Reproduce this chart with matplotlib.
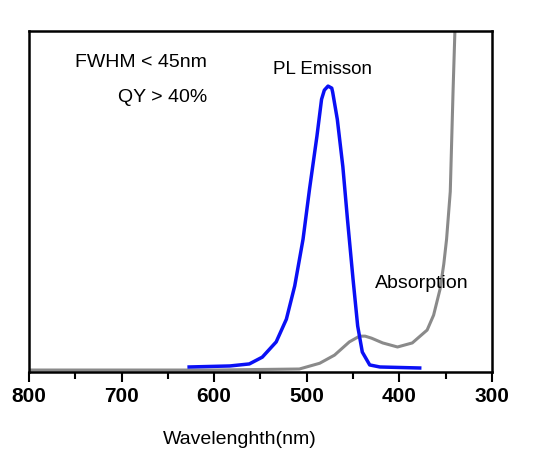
import matplotlib
matplotlib.use("Agg")
import matplotlib.pyplot as plt
from matplotlib.ticker import MultipleLocator

plt.rcParams['font.family'] = ['Liberation Sans', 'DejaVu Sans']

# PL emission (blue)
pl_wl = [627, 583, 562, 548, 533, 522, 513, 504, 497, 489, 484, 481, 477, 473, 472,
         467, 461, 456, 450, 445, 440, 432, 421, 378]
pl_int = [0.009, 0.012, 0.018, 0.038, 0.083, 0.15, 0.248, 0.386, 0.534, 0.69, 0.799, 0.826,
          0.838, 0.832, 0.82, 0.74, 0.60, 0.444, 0.268, 0.13, 0.053, 0.015, 0.009, 0.006]

# absorption (gray)
abs_wl = [800, 700, 600, 508, 486, 470, 454, 443, 437, 430, 418, 402, 386, 370, 363,
          356, 352, 349, 345, 342, 340, 337]
abs_int = [0.0, 0.0, 0.0, 0.003, 0.02, 0.044, 0.083, 0.10, 0.10, 0.094, 0.08, 0.068, 0.08,
           0.118, 0.162, 0.239, 0.313, 0.386, 0.527, 0.823, 1.0, 1.15]

xticks = [800, 700, 600, 500, 400, 300]

fig = plt.figure(figsize=(5.46, 4.6), dpi=100)
ax = fig.add_axes([0.053, 0.189, 0.848, 0.741])

ax.plot(abs_wl, abs_int, color='#8a8a8a', lw=2.2, zorder=2)
ax.plot(pl_wl, pl_int, color='#0a10f5', lw=2.5, zorder=3)

ax.set_xlim(800, 300)
ax.set_ylim(-0.006, 1.0)
ax.set_xticks(xticks)
ax.xaxis.set_minor_locator(MultipleLocator(50))
ax.set_yticks([])
ax.tick_params(axis='x', which='major', direction='out', length=7, width=1.5, pad=3,
               labelsize=15)
ax.tick_params(axis='x', which='minor', direction='out', length=5, width=1.5)
for lab in ax.get_xticklabels():
    lab.set_fontweight('bold')
for sp in ax.spines.values():
    sp.set_linewidth(1.8)
    sp.set_color('black')

ax.set_xlabel('Wavelenghth(nm)', fontsize=14)
ax.xaxis.set_label_coords(0.456, -0.17)

ax.text(0.385, 0.912, 'FWHM < 45nm', transform=ax.transAxes, ha='right', va='center', fontsize=14)
ax.text(0.385, 0.809, 'QY > 40%', transform=ax.transAxes, ha='right', va='center', fontsize=14)
ax.text(0.633, 0.891, 'PL Emisson', transform=ax.transAxes, ha='center', va='center', fontsize=13.5)
ax.text(0.849, 0.262, 'Absorption', transform=ax.transAxes, ha='center', va='center', fontsize=14)

fig.savefig('out.png', dpi=100)
